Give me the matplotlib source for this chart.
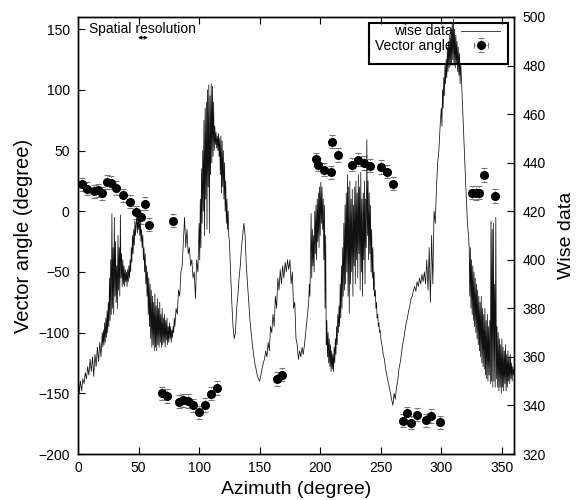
import matplotlib
matplotlib.use("Agg")
import matplotlib.pyplot as plt
from matplotlib.patches import Rectangle
import numpy as np

plt.rcParams['font.family'] = ['Liberation Sans', 'DejaVu Sans']

# wise data in pieces: (first azimuth, step, values)
wise_seg0 = (0, 1.0, [
    355, 345, 350, 346, 351, 349, 353.5, 351, 356, 352.5,
    359, 354, 360, 352, 361, 356, 364, 358, 366, 360, 370])
wise_seg1 = (20.5, 0.5, [
    364, 371, 365, 374, 366, 376, 368, 379, 370, 382.5,
    372.5, 392.5, 375, 400, 377.5, 419, 380, 405, 377.5, 417.5,
    385, 407.5, 382.5, 397.5, 380, 410, 387.5, 405, 385, 418.5,
    392.5, 402.5, 389, 400, 390, 397.5, 389, 396, 391, 395,
    389, 396, 391, 397.5, 392.5, 400, 395, 405, 399, 410,
    402.5, 412.5, 406, 416, 410, 415, 417.5, 411, 417, 412.5,
    417.5, 410, 416, 407.5, 412.5, 405, 410, 400, 405, 395,
    402.5, 390, 397.5, 385, 395, 377.5, 392.5, 372.5, 390, 367.5,
    387.5, 364, 385, 365, 382.5, 362.5, 386, 364, 381, 362.5,
    384, 365, 380, 364, 382.5, 366, 377.5, 364, 380, 365,
    376, 366, 377.5, 364, 375, 367, 376, 365, 372.5, 366,
    374, 367.5, 372.5, 366, 371, 368, 372.5, 370, 376, 372.5])
wise_seg2 = (81, 1.0, [
    380, 377.5, 387.5, 385, 395, 397.5, 407.5, 417.5, 405, 412.5,
    402.5, 405, 397.5, 400, 392.5, 395, 384, 400, 395, 415])
wise_seg3 = (100.5, 0.5, [
    400, 425, 405, 437.5, 415, 445, 420, 457.5, 410, 462.5,
    425, 465, 412.5, 470, 430, 472, 411, 467.5, 435, 472.5,
    440, 471.5, 442.5, 465, 445, 455, 447.5, 452.5, 446, 451,
    445, 452, 442.5, 450, 435, 451, 427.5, 449, 430, 445,
    425, 440, 420, 432.5, 415, 425, 412.5, 420, 410, 407.5])
wise_seg4 = (126, 1.0, [
    395, 382.5, 372.5, 367.5, 370, 380, 385, 392.5, 397.5, 405,
    410, 415, 410, 397.5, 390, 382.5, 375, 370, 365, 361,
    357.5, 355, 352.5, 351, 350, 352.5, 355, 357.5, 359, 362.5,
    360, 366, 362.5, 372.5, 370, 377.5, 372.5, 385, 380, 392.5,
    387.5, 396, 390, 397.5, 392.5, 399, 395, 400, 396, 400,
    390, 395, 380, 382.5, 367.5, 365, 359, 362.5, 360, 364,
    361, 365, 370, 375, 380])
wise_seg5 = (190.5, 0.5, [
    382.5, 390, 385, 400, 419, 392.5, 412.5, 397.5, 410, 395,
    420, 402.5, 422.5, 400, 425, 407.5, 427.5, 405, 430, 410,
    432, 415, 430, 412.5, 425, 400, 422.5, 380, 410, 365,
    375, 360, 370, 357.5, 367.5, 356, 365, 354, 362.5, 355,
    361, 354, 364, 357.5, 367.5, 361, 372.5, 365, 377.5, 370,
    381, 372.5, 390, 376, 397.5, 380, 405, 385, 415, 387.5,
    422.5, 390, 427.5, 395, 435, 385, 430, 378, 432.5, 390,
    425, 395, 429, 385, 422.5, 397.5, 430, 390, 432.5, 400,
    427.5, 392.5, 435, 402.5, 430, 387.5, 436, 395, 425, 385,
    427.5, 400, 432.5, 390, 425, 405, 449.5, 410, 432.5, 400,
    427.5, 402.5, 422.5, 395, 412.5, 392.5, 405, 387.5, 395, 385,
    387.5, 380, 382.5, 376, 377.5, 372.5, 374, 370, 371, 367.5])
wise_seg6 = (251, 1.0, [
    365, 361, 359, 355, 352.5, 350, 347.5, 345, 342.5, 340,
    345, 342.5, 347.5, 350, 355, 357.5, 361, 365, 367.5, 371,
    374, 376, 379, 381, 384, 385, 387.5, 389, 387, 391,
    389, 392.5, 390, 394, 391, 395, 390, 400, 387.5, 405,
    382.5, 410, 390, 420, 415, 430, 440, 445, 455, 462.5])
wise_seg7 = (300.5, 0.5, [
    455, 470, 462.5, 475, 467.5, 480, 472.5, 482.5, 475, 487.5,
    477.5, 490, 479, 492.5, 480, 495, 481, 497.5, 482.5, 499,
    480, 495, 479, 492.5, 481, 490, 477.5, 487.5, 476, 485,
    472.5, 481, 476, 470, 464, 457.5, 451, 445, 439, 432.5,
    427, 421, 416, 412.5, 410, 405, 385, 405, 380, 400,
    377.5, 397.5, 375, 395, 372.5, 392.5, 370, 390, 367.5, 387.5,
    365, 385, 362.5, 382.5, 360, 385, 357.5, 380, 356, 377.5,
    355, 380, 352.5, 375, 351, 377.5, 350, 372.5, 352.5, 375,
    349, 416, 350, 412.5, 347.5, 415, 350, 390, 347.5, 417.5,
    351, 372.5, 347.5, 370, 346, 367.5, 347.5, 365, 345, 367.5,
    347.5, 364, 346, 362.5, 349, 365, 346, 361, 347.5, 362.5,
    350, 360, 349, 361, 351, 357.5, 350, 356, 352.5, 355])
wise_segments = [wise_seg0, wise_seg1, wise_seg2, wise_seg3,
                 wise_seg4, wise_seg5, wise_seg6, wise_seg7]

# vector angle measurements with errors
vec_az = [3.0, 7.7, 13.5, 16.2, 19.8, 23.7, 27.2, 31.6, 36.9, 42.6,
          47.9, 52.3, 55.6, 59.0, 69.3, 73.2, 78.4, 83.4, 86.7, 90.5,
          95.2, 99.9, 104.6, 109.5, 114.7, 164.5, 168.1, 196.5, 198.4, 203.3,
          208.8, 209.9, 214.9, 226.5, 231.4, 236.4, 240.8, 249.9, 254.8, 260.0,
          268.0, 271.8, 274.9, 279.6, 287.3, 291.7, 298.8, 325.2, 328.3, 331.0,
          334.9, 344.5]
vec_ang = [22.1, 18.5, 16.5, 17.1, 14.6, 24.0, 23.5, 19.0, 13.0, 7.8,
           -0.8, -4.9, 6.1, -11.2, -149.9, -152.1, -7.7, -156.8, -155.7, -156.2,
           -159.8, -165.6, -159.6, -150.2, -145.5, -138.3, -134.6, 42.7, 38.3, 34.2,
           32.0, 57.3, 46.3, 38.3, 42.4, 39.6, 37.5, 36.3, 32.5, 22.6,
           -172.5, -166.4, -174.2, -167.6, -172.2, -168.6, -173.8, 15.2, 14.9, 15.2,
           29.8, 12.5]
vec_xerr = [2.5] * len(vec_az)
vec_yerr = [5.5] * len(vec_az)

wise_az = []
wise_val = []
for start, step, vals in wise_segments:
    wise_az.extend(start + step * i for i in range(len(vals)))
    wise_val.extend(vals)

fig = plt.figure(figsize=(5.79, 5.00), dpi=100)
ax = fig.add_axes([0.1347, 0.092, 0.753, 0.874])
ax2 = ax.twinx()

ln, = ax2.plot(wise_az, wise_val, '-', color='#111111', lw=0.55)
eb = ax.errorbar(vec_az, vec_ang, xerr=vec_xerr, yerr=vec_yerr, fmt='o',
                 color='black', ms=5.5, ecolor='#777777', elinewidth=0.8,
                 capsize=2, capthick=0.8, zorder=3)
for bars in eb[2]:
    bars.set_linestyle(':')

ax.set_xlim(0, 360)
ax.set_ylim(-200, 160)
ax2.set_ylim(320, 500)
ax.set_xticks(np.arange(0, 351, 50))
ax.set_yticks(np.arange(-200, 151, 50))
ax2.set_yticks(np.arange(320, 501, 20))

ax.tick_params(axis='x', direction='in', top=True, length=5, labelsize=10, pad=5)
ax.tick_params(axis='y', direction='in', right=False, length=5, labelsize=10, pad=6)
ax2.tick_params(axis='y', direction='in', length=5, labelsize=10, pad=6)
for a in (ax, ax2):
    for s in a.spines.values():
        s.set_linewidth(1.0)

ax.set_xlabel('Azimuth (degree)', fontsize=14, labelpad=4)
ax.set_ylabel('Vector angle (degree)', fontsize=14.5, labelpad=4)
ax2.set_ylabel('Wise data', fontsize=14, labelpad=9)

ax.text(9.5, 150, 'Spatial resolution', fontsize=10, va='center', ha='left')
ax.annotate('', xy=(49.5, 143), xytext=(57.8, 143),
            arrowprops=dict(arrowstyle='<->', color='black', lw=0.8,
                            shrinkA=0, shrinkB=0, mutation_scale=5))

ax2.add_patch(Rectangle((0.667, 0.892), 0.319, 0.094, transform=ax2.transAxes,
                        fill=False, edgecolor='black', lw=1.5, zorder=5))
leg = ax2.legend([ln, eb], ['wise data', 'Vector angle'], loc='upper right',
                 bbox_to_anchor=(0.968, 0.983), markerfirst=False, fontsize=10,
                 frameon=False, handlelength=2.8, borderpad=0, borderaxespad=0,
                 labelspacing=0.05, handletextpad=0.6)

fig.savefig('out.png', dpi=100)
